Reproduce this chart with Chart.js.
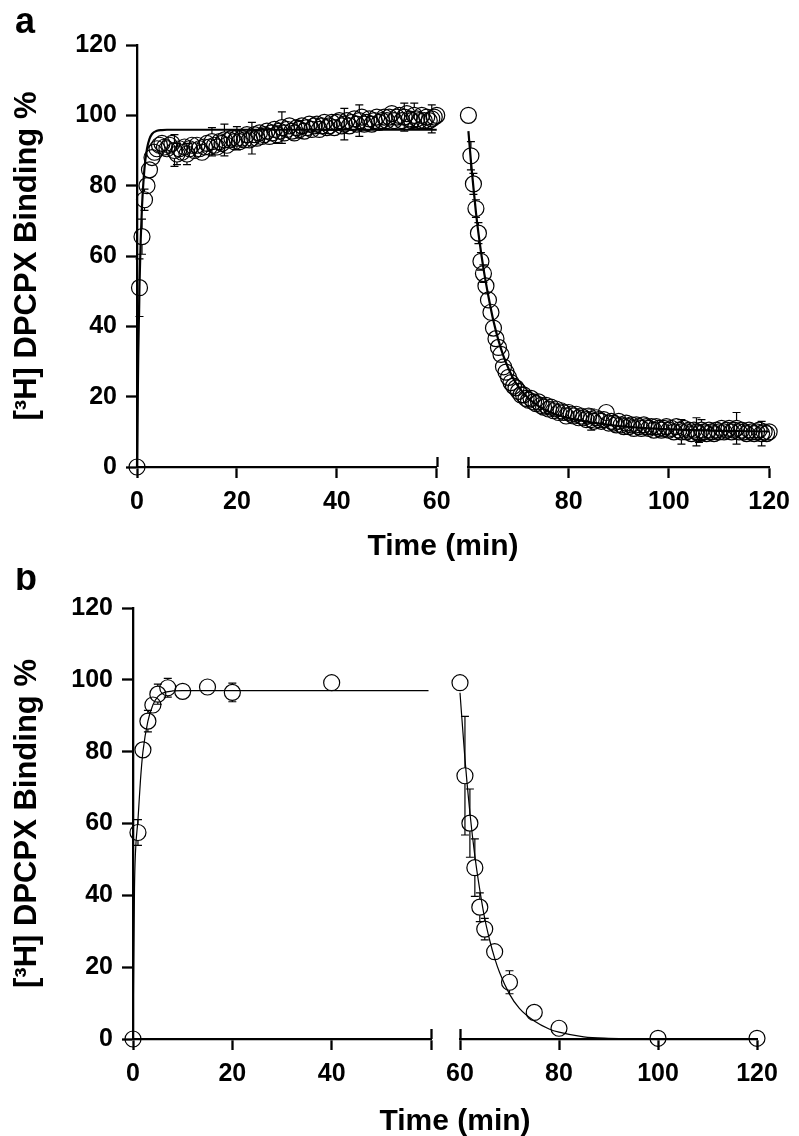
<!DOCTYPE html>
<html>
<head>
<meta charset="utf-8">
<script src="https://cdn.jsdelivr.net/npm/chart.js@4.4.1/dist/chart.umd.min.js"></script>
<style>
  body { margin: 0; background: #fff; }
  .panel { position: relative; width: 799px; height: 568px; }
  canvas { display: block; }
</style>
</head>
<body>
<div class="panel"><canvas id="canA" width="799" height="568"></canvas></div>
<div class="panel"><canvas id="canB" width="799" height="568"></canvas></div>
<script>
// ---- panel a: association (0-60 min) ----
const aAssocTime = [
  0, 0.5, 1, 1.5, 2, 2.5, 3, 3.5, 4, 4.5,
  5, 5.5, 6, 6.5, 7, 7.5, 8, 8.5, 9, 9.5,
  10, 10.5, 11, 11.5, 12, 12.5, 13, 13.5, 14, 14.5,
  15, 15.5, 16, 16.5, 17, 17.5, 18, 18.5, 19, 19.5,
  20, 20.5, 21, 21.5, 22, 22.5, 23, 23.5, 24, 24.5,
  25, 25.5, 26, 26.5, 27, 27.5, 28, 28.5, 29, 29.5,
  30, 30.5, 31, 31.5, 32, 32.5, 33, 33.5, 34, 34.5,
  35, 35.5, 36, 36.5, 37, 37.5, 38, 38.5, 39, 39.5,
  40, 40.5, 41, 41.5, 42, 42.5, 43, 43.5, 44, 44.5,
  45, 45.5, 46, 46.5, 47, 47.5, 48, 48.5, 49, 49.5,
  50, 50.5, 51, 51.5, 52, 52.5, 53, 53.5, 54, 54.5,
  55, 55.5, 56, 56.5, 57, 57.5, 58, 58.5, 59, 59.5,
  60
]
const aAssocBinding = [
  0, 51, 65.5, 76, 80, 84.5, 88, 89.5, 90.5, 91.5,
  92, 91, 90.5, 91.5, 92, 90, 89, 90.5, 89.5, 91,
  89, 90.5, 91.5, 90, 91.5, 90.5, 89.5, 91, 92, 91,
  92.5, 91.5, 91, 92.5, 92, 93, 91.5, 93, 93.5, 92.5,
  93.5, 92.5, 93.5, 93, 94.5, 93, 93.5, 94.5, 93.5, 95,
  94, 94.5, 95.5, 94, 95, 96, 94.5, 95.5, 96.5, 95,
  96, 97, 95.5, 95, 96.5, 96, 97, 95.5, 96.5, 97.5,
  96, 97, 97.5, 96, 97, 98, 96.5, 97, 98, 96.5,
  98, 98.5, 97, 97.5, 98.5, 97, 98, 99, 97.5, 98.5,
  99.5, 97.5, 98, 99, 97.5, 98.5, 99.5, 98, 98.5, 99.5,
  98.5, 99.5, 100.5, 98.5, 99.5, 100, 98.5, 99.5, 100.5, 99,
  98.5, 100, 99, 98.5, 100, 98.5, 99.5, 98.5, 99, 99.5,
  100
]
const aAssocSem = [
  0, 8.2, 5, 3, 2, 2, 2, 1.5, 1.5, 1.5,
  1.5, 1.5, 1.5, 1.5, 1.5, 4.5, 3, 1.5, 2, 2,
  3, 1.5, 1.5, 1.5, 1.5, 1.5, 1.5, 1.5, 1.5, 1.5,
  4, 1.5, 1.5, 1.5, 2, 4.5, 1.5, 1.5, 1.5, 1.5,
  3.3, 1.5, 1.5, 2, 1.5, 1.5, 4.5, 1.5, 1.5, 1.5,
  1.5, 1.5, 2, 1.5, 1.5, 1.5, 2.5, 1.5, 4.5, 1.5,
  1.5, 1.5, 1.5, 1.5, 1.5, 2.5, 1.5, 2, 1.5, 1.5,
  1.5, 2, 1.5, 1.5, 1.5, 1.5, 1.5, 1.5, 1.5, 1.5,
  1.5, 1.5, 2, 4.5, 1.5, 1.5, 1.5, 1.5, 1.5, 4.5,
  1.5, 1.5, 1.5, 2, 1.5, 1.5, 1.5, 1.5, 1.5, 2,
  1.5, 1.5, 1.5, 1.5, 2, 1.5, 1.5, 4, 1.5, 1.5,
  2.5, 3.5, 1.5, 1.5, 1.5, 2, 1.5, 1.5, 4, 1.5,
  1.5
]
const aAssocFitTime = [0, 0.25, 0.5, 0.75, 1, 1.5, 2, 2.5, 3, 4, 5, 6, 60]
const aAssocFitBinding = [0, 32, 52, 65, 74, 85, 90.5, 93.3, 94.7, 95.6, 95.8, 95.9, 95.9]

// ---- panel a: dissociation (60-120 min) ----
const aDissocTime = [
  60, 60.5, 61, 61.5, 62, 62.5, 63, 63.5, 64, 64.5,
  65, 65.5, 66, 66.5, 67, 67.5, 68, 68.5, 69, 69.5,
  70, 70.5, 71, 71.5, 72, 72.5, 73, 73.5, 74, 74.5,
  75, 75.5, 76, 76.5, 77, 77.5, 78, 78.5, 79, 79.5,
  80, 80.5, 81, 81.5, 82, 82.5, 83, 83.5, 84, 84.5,
  85, 85.5, 86, 86.5, 87, 87.5, 88, 88.5, 89, 89.5,
  90, 90.5, 91, 91.5, 92, 92.5, 93, 93.5, 94, 94.5,
  95, 95.5, 96, 96.5, 97, 97.5, 98, 98.5, 99, 99.5,
  100, 100.5, 101, 101.5, 102, 102.5, 103, 103.5, 104, 104.5,
  105, 105.5, 106, 106.5, 107, 107.5, 108, 108.5, 109, 109.5,
  110, 110.5, 111, 111.5, 112, 112.5, 113, 113.5, 114, 114.5,
  115, 115.5, 116, 116.5, 117, 117.5, 118, 118.5, 119, 119.5,
  120
]
const aDissocBinding = [
  100, 88.5, 80.5, 73.5, 66.5, 58.5, 55, 51.5, 47.5, 44,
  39.5, 36.5, 34, 32, 28.5, 27, 25.5, 24, 23, 22.5,
  21.5, 20.5, 20.5, 19.5, 19, 19.5, 18.5, 18, 18.5, 17.5,
  17, 17.5, 16.5, 17, 16, 16.5, 15.5, 16, 15.5, 14.5,
  15.5, 15, 14.5, 15, 14, 14.5, 14, 13.5, 14.5, 13.5,
  13, 14, 13.5, 13, 13.5, 15.5, 12.5, 13, 12.5, 12,
  13, 12, 11.5, 12.5, 11.5, 12, 11, 12, 11.5, 11,
  12, 11.5, 11, 11.5, 10.5, 11.5, 11, 10.5, 11, 11.5,
  10.5, 11, 10, 11.5, 10.5, 10, 11, 10, 10.5, 9.5,
  10.5, 10, 9.5, 10.5, 10, 9.5, 10.5, 10, 9.5, 10.5,
  10, 11, 10, 10.5, 11, 10, 10.5, 11, 10, 10.5,
  10, 9.5, 10.5, 10, 9.5, 10, 10.5, 9.5, 10, 9.5,
  10
]
const aDissocSem = [
  0, 4, 3, 2.5, 3, 2.5, 2.5, 1.5, 1.5, 1.5,
  1.5, 1, 1.5, 1, 1, 1.5, 1, 1, 1, 1,
  1, 1, 1.5, 1, 1, 1, 1, 1, 1, 1,
  1, 1, 1, 1, 1.5, 1, 1, 1, 1, 1,
  1, 1, 1, 1, 1, 1.5, 1, 1, 1, 3,
  1, 1, 1, 1, 1, 1, 1, 1, 1, 1,
  1, 1, 1, 1, 1, 1, 1.5, 1, 1, 1,
  1, 1, 1, 1, 1, 1, 1, 1, 1.5, 1,
  1, 1, 1.5, 1, 1, 3.5, 2, 1, 1, 1,
  1, 4, 2.5, 3, 1, 1, 1, 1, 2, 1,
  1, 1, 1, 2, 1, 1, 1, 4.5, 1, 1,
  1.5, 1, 1, 1, 2, 1, 1, 3.5, 1, 1,
  1
]
const aDissocFitTime = [60, 60.5, 61, 61.5, 62, 63, 64, 65, 66, 67, 68, 69, 70, 72, 74, 76, 78, 80, 84, 88, 92, 96, 100, 110, 120]
const aDissocFitBinding = [95.5, 87, 79.5, 72.5, 66.5, 56.5, 48.5, 41.5, 36, 31.5, 28, 25, 22.8, 19.5, 17.3, 15.8, 14.7, 13.9, 12.8, 12, 11.4, 11, 10.7, 10.3, 10.1]

// ---- panel b ----
const bAssocTime = [0, 1, 2, 3, 4, 5, 7, 10, 15, 20, 40]
const bAssocBinding = [0, 57.5, 80.5, 88.5, 93, 96, 97.8, 96.8, 98, 96.5, 99.2]
const bAssocSem = [0, 3.6, 1.5, 3, 1.5, 2.8, 2.6, 0.8, 0.8, 2.6, 0.5]
const bAssocFitTime = [0, 0.3, 0.5, 1, 1.5, 2, 3, 4, 5, 6, 8, 10, 59.5]
const bAssocFitBinding = [0, 42, 52, 61, 72, 80, 88.5, 93, 95.3, 96.3, 96.9, 97, 97]

const bDissocTime = [60, 61, 62, 63, 64, 65, 67, 70, 75, 80, 100, 120]
const bDissocBinding = [99.2, 73.3, 60.1, 47.7, 36.7, 30.6, 24.3, 15.8, 7.4, 3.0, 0.2, 0.2]
const bDissocSem = [0.5, 16.5, 9.5, 8, 4, 3, 1, 3.2, 0.5, 0.5, 0.5, 0.5]
const bDissocFitTime = [60, 61, 62, 63, 64, 65, 66, 67, 68, 70, 72, 75, 78, 80, 85, 90, 100, 120]
const bDissocFitBinding = [96.4, 78, 63, 51, 41.5, 33.5, 27.5, 22.5, 18.5, 12.5, 8.5, 5, 2.8, 1.9, 0.6, 0.2, 0, 0]

// ---- ticks ----
const yTickValues = [0, 20, 40, 60, 80, 100, 120]
const aLeftTicks = [0, 20, 40, 60]
const aLeftLabels = ['0', '20', '40', '60']
const aRightTicks = [60, 80, 100, 120]
const aRightLabels = ['', '80', '100', '120']
const bLeftTicks = [0, 20, 40, 60]
const bLeftLabels = ['0', '20', '40', '']
const bRightTicks = [60, 80, 100, 120]
const bRightLabels = ['60', '80', '100', '120']

const FONT = "'Liberation Sans', Arial, Helvetica, sans-serif"
const AXIS_W = 2.3
const SYMBOL_R = 8

function pairs (xs, ys) {
  return xs.map((x, i) => ({ x: x, y: ys[i] }))
}

// error bars (only the part outside the symbol), axis-break caps, panel letter and x title
const kineticsPlugin = {
  id: 'kinetics',
  afterDatasetsDraw (chart) {
    const ctx = chart.ctx
    const yScale = chart.scales.y
    ctx.save()
    ctx.strokeStyle = '#000'
    ctx.lineWidth = 1.2
    chart.data.datasets.forEach(ds => {
      if (!ds.errors) return
      const xScale = chart.scales[ds.xAxisID]
      ds.data.forEach((p, i) => {
        const e = ds.errors[i]
        if (!e) return
        const x = xScale.getPixelForValue(p.x)
        const yc = yScale.getPixelForValue(p.y)
        const y1 = yScale.getPixelForValue(p.y + e)
        const y2 = yScale.getPixelForValue(p.y - e)
        if (yc - y1 <= SYMBOL_R) return
        ctx.beginPath()
        ctx.moveTo(x, y1)
        ctx.lineTo(x, yc - SYMBOL_R)
        ctx.moveTo(x, yc + SYMBOL_R)
        ctx.lineTo(x, y2)
        ctx.moveTo(x - 4, y1)
        ctx.lineTo(x + 4, y1)
        ctx.moveTo(x - 4, y2)
        ctx.lineTo(x + 4, y2)
        ctx.stroke()
      })
    })
    ctx.restore()
  },
  afterDraw (chart, args, opts) {
    const ctx = chart.ctx
    const area = chart.chartArea
    ctx.save()
    ctx.strokeStyle = '#000'
    ctx.lineWidth = AXIS_W
    opts.caps.forEach(c => {
      const x = Math.round(chart.scales[c.axis].getPixelForValue(c.value)) + 0.5
      ctx.beginPath()
      ctx.moveTo(x, area.bottom - 10)
      ctx.lineTo(x, area.bottom)
      ctx.stroke()
    })
    ctx.fillStyle = '#000'
    ctx.textBaseline = 'alphabetic'
    ctx.textAlign = 'left'
    ctx.font = 'bold 36px ' + FONT
    ctx.fillText(opts.letter, opts.letterX, opts.letterY)
    ctx.textAlign = 'center'
    ctx.font = 'bold 30px ' + FONT
    ctx.fillText(opts.xTitle, opts.xTitleX, opts.xTitleY)
    ctx.restore()
  }
}

function axisStyle () {
  return {
    border: { display: true, color: '#000', width: AXIS_W },
    grid: { display: true, drawOnChartArea: false, drawTicks: true, tickLength: 11, tickWidth: AXIS_W, tickColor: '#000' }
  }
}

function timeScale (min, max, weight, ticks, labels, height) {
  return Object.assign(axisStyle(), {
    type: 'linear',
    axis: 'x',
    position: 'bottom',
    stack: 'time',
    stackWeight: weight,
    min: min,
    max: max,
    afterFit: s => { s.height = height },
    afterBuildTicks: s => { s.ticks = ticks.map(v => ({ value: v })) },
    ticks: {
      color: '#000',
      font: { family: FONT, size: 25, weight: 'bold' },
      padding: 9,
      maxRotation: 0,
      autoSkip: false,
      callback: (v, i) => labels[i]
    }
  })
}

function gapScale (weight, height) {
  return {
    type: 'linear',
    axis: 'x',
    position: 'bottom',
    stack: 'time',
    stackWeight: weight,
    min: 0,
    max: 1,
    afterFit: s => { s.height = height },
    border: { display: false },
    grid: { display: false },
    ticks: { display: false }
  }
}

function pointSet (xs, ys, sem, axisId) {
  return {
    type: 'scatter',
    data: pairs(xs, ys),
    errors: sem,
    xAxisID: 'x' + axisId,
    showLine: false,
    pointRadius: SYMBOL_R,
    pointBorderWidth: 1.2,
    pointBorderColor: '#000',
    pointBackgroundColor: 'rgba(0,0,0,0)',
    clip: false
  }
}

function fitSet (xs, ys, axisId, width) {
  return {
    type: 'line',
    data: pairs(xs, ys),
    xAxisID: 'x' + axisId,
    borderColor: '#000',
    borderWidth: width,
    pointRadius: 0,
    fill: false,
    cubicInterpolationMode: 'monotone',
    clip: false
  }
}

function kineticsChart (canvas, p) {
  return new Chart(canvas, {
    type: 'scatter',
    data: {
      datasets: [
        fitSet(p.assocFitTime, p.assocFitBinding, 'l', p.fitWidth),
        fitSet(p.dissocFitTime, p.dissocFitBinding, 'r', p.fitWidth),
        pointSet(p.assocTime, p.assocBinding, p.assocSem, 'l'),
        pointSet(p.dissocTime, p.dissocBinding, p.dissocSem, 'r')
      ]
    },
    options: {
      responsive: false,
      animation: false,
      events: [],
      layout: { padding: { top: p.top, right: p.right, bottom: 0, left: 0 } },
      scales: {
        xl: timeScale(0, 60, p.weights[0], p.leftTicks, p.leftLabels, p.xHeight),
        xg: gapScale(p.weights[1], p.xHeight),
        xr: timeScale(60, 120, p.weights[2], p.rightTicks, p.rightLabels, p.xHeight),
        y: Object.assign(axisStyle(), {
          type: 'linear',
          position: 'left',
          min: 0,
          max: 120,
          afterFit: s => { s.width = p.yWidth },
          afterBuildTicks: s => { s.ticks = yTickValues.map(v => ({ value: v })) },
          ticks: {
            color: '#000',
            font: { family: FONT, size: 25, weight: 'bold' },
            padding: 9,
            callback: v => String(v)
          },
          title: {
            display: true,
            text: '[³H] DPCPX Binding %',
            color: '#000',
            font: { family: FONT, size: 31, weight: 'bold' },
            padding: { top: 9, bottom: 0 }
          }
        })
      },
      plugins: {
        legend: { display: false },
        tooltip: { enabled: false },
        kinetics: {
          caps: [{ axis: 'xl', value: 60 }, { axis: 'xr', value: 60 }],
          letter: p.letter,
          letterX: 15,
          letterY: p.letterY,
          xTitle: 'Time (min)',
          xTitleX: p.xTitleX,
          xTitleY: p.xTitleY
        }
      }
    },
    plugins: [kineticsPlugin]
  })
}

kineticsChart(document.getElementById('canA'), {
  letter: 'a', letterY: 33, xTitleX: 443, xTitleY: 555,
  top: 45, right: 23, xHeight: 101, yWidth: 137, weights: [303, 32, 304], fitWidth: 2.2,
  leftTicks: aLeftTicks, leftLabels: aLeftLabels, rightTicks: aRightTicks, rightLabels: aRightLabels,
  assocTime: aAssocTime, assocBinding: aAssocBinding, assocSem: aAssocSem,
  assocFitTime: aAssocFitTime, assocFitBinding: aAssocFitBinding,
  dissocTime: aDissocTime, dissocBinding: aDissocBinding, dissocSem: aDissocSem,
  dissocFitTime: aDissocFitTime, dissocFitBinding: aDissocFitBinding
})

kineticsChart(document.getElementById('canB'), {
  letter: 'b', letterY: 22, xTitleX: 455, xTitleY: 562,
  top: 40, right: 42, xHeight: 97, yWidth: 133, weights: [298, 29, 297], fitWidth: 1.2,
  leftTicks: bLeftTicks, leftLabels: bLeftLabels, rightTicks: bRightTicks, rightLabels: bRightLabels,
  assocTime: bAssocTime, assocBinding: bAssocBinding, assocSem: bAssocSem,
  assocFitTime: bAssocFitTime, assocFitBinding: bAssocFitBinding,
  dissocTime: bDissocTime, dissocBinding: bDissocBinding, dissocSem: bDissocSem,
  dissocFitTime: bDissocFitTime, dissocFitBinding: bDissocFitBinding
})
</script>
</body>
</html>
